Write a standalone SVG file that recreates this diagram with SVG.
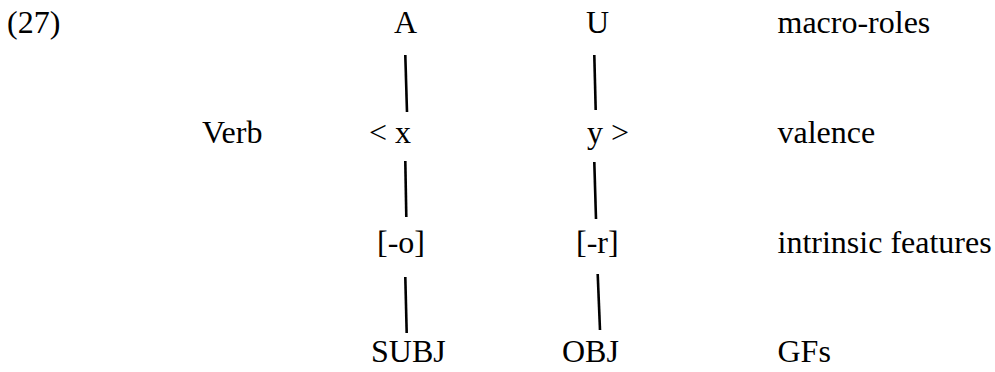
<svg xmlns="http://www.w3.org/2000/svg" width="995" height="372" viewBox="0 0 995 372">
<style>
text { font-family: "Liberation Serif", "Times New Roman", serif; font-size: 32px; fill: #000; }
.c { text-anchor: middle; }
.link { stroke: #000; stroke-width: 2.6; fill: none; }
</style>
<rect width="995" height="372" fill="#fff"/>
<g id="label-27"><text x="7" y="33">(27)</text></g>
<g id="node-A"><text class="c" x="405.5" y="33">A</text></g>
<g id="node-U"><text class="c" x="597.5" y="33">U</text></g>
<g id="row-macro-roles"><text x="777.5" y="33">macro-roles</text></g>
<g id="node-Verb"><text x="202" y="143">Verb</text></g>
<g id="node-x"><text x="369" y="143">&lt; x</text></g>
<g id="node-y"><text x="587" y="143">y &gt;</text></g>
<g id="row-valence"><text x="777.5" y="143">valence</text></g>
<g id="node-o"><text x="377" y="253">[-o]</text></g>
<g id="node-r"><text x="576" y="253">[-r]</text></g>
<g id="row-intrinsic"><text x="777.5" y="253">intrinsic features</text></g>
<g id="node-SUBJ"><text x="371" y="362">SUBJ</text></g>
<g id="node-OBJ"><text x="562" y="362">OBJ</text></g>
<g id="row-GFs"><text x="777.5" y="362">GFs</text></g>
<g id="connectors">
<line class="link" x1="405.3" y1="55" x2="407" y2="112"/>
<line class="link" x1="594.3" y1="55" x2="595.7" y2="110"/>
<line class="link" x1="405.3" y1="161" x2="406.3" y2="217"/>
<line class="link" x1="594.3" y1="162" x2="596" y2="219"/>
<line class="link" x1="405.3" y1="277" x2="406.7" y2="333"/>
<line class="link" x1="597.7" y1="274" x2="600" y2="330"/>
</g>
</svg>
